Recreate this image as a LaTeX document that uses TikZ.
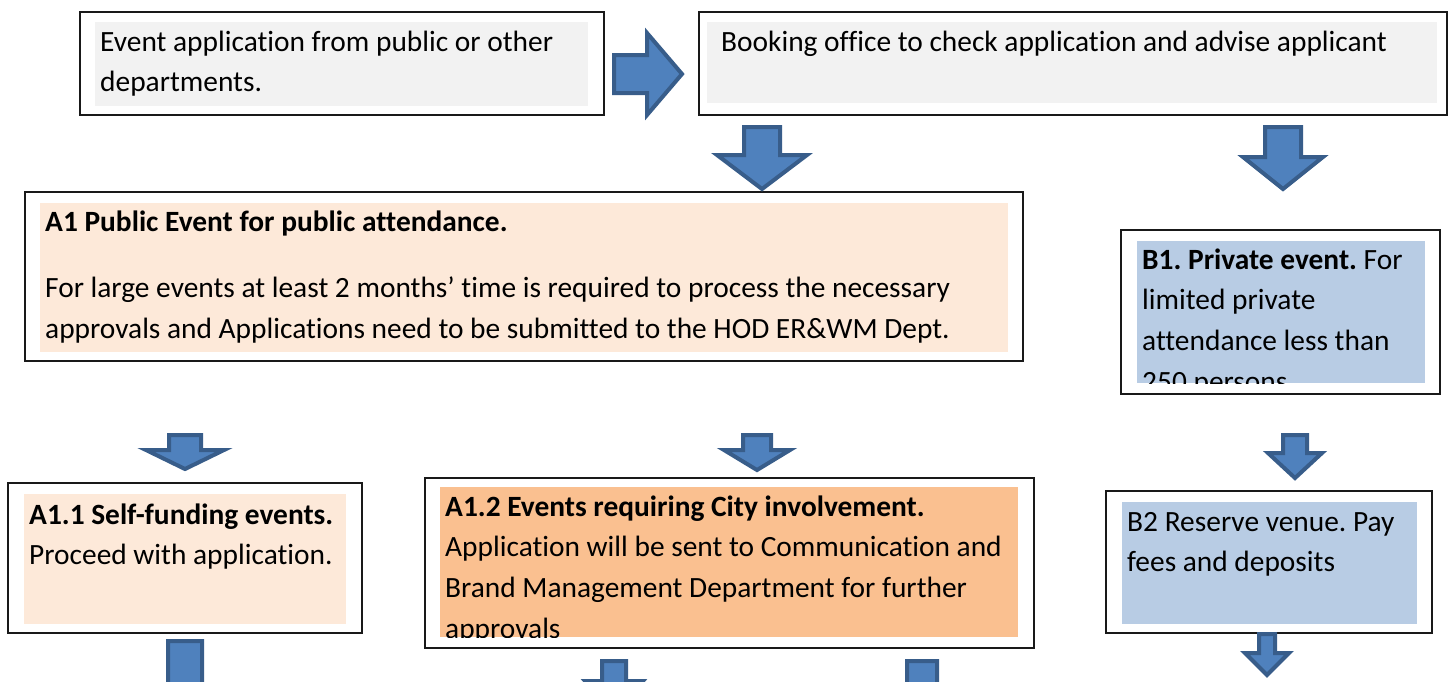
\documentclass[tikz,border=0pt]{standalone}
\usepackage{fontspec}
\setmainfont{Carlito}[RawFeature=-liga]
\frenchspacing
\usetikzlibrary{fit}
\definecolor{boxgray}{HTML}{F2F2F2}
\definecolor{peach}{HTML}{FDE9D9}
\definecolor{orangefill}{HTML}{FAC090}
\definecolor{bluefill}{HTML}{B8CCE4}
\definecolor{arrowfill}{HTML}{4F81BD}
\definecolor{arrowedge}{HTML}{385D8A}
% cx, top, shaft half width, head base y, head half width, apex y
\newcommand\blockdn[6]{%
  \draw[blockarrow] ({#1-#3},#2) -- ({#1+#3},#2) -- ({#1+#3},#4) -- ({#1+#5},#4)
    -- (#1,#6) -- ({#1-#5},#4) -- ({#1-#3},#4) -- cycle;}
\begin{document}
\begin{tikzpicture}[x=1pt,y=-1pt,
  outerbox/.style={draw=black!90, line width=1.3pt, inner sep=0pt},
  fillbox/.style={inner sep=0pt, draw=none},
  txt/.style={anchor=base west, inner sep=0pt, font=\fontsize{29.4}{40.7}\selectfont},
  blockarrow/.style={fill=arrowfill, draw=arrowedge, line width=4pt, line join=miter}]
\clip (0,0) rectangle (1455,681);
\fill[white] (0,0) rectangle (1455,681);

% ---- boxes ----
\node[outerbox, fit={(80,12)(604,115)}] (app) {};
\node[fillbox, fill=boxgray, fit={(95,22)(588,106)}] (appF) {};
\node[txt] (appT) at (100,51) {\parbox[t]{600pt}{\raggedright Event application from public or other\\departments.}};

\node[outerbox, fit={(699,12)(1447,115)}] (book) {};
\node[fillbox, fill=boxgray, fit={(707,22)(1437,103)}] (bookF) {};
\node[txt] (bookT) at (721,51) {Booking office to check application and advise applicant};

\node[outerbox, fit={(25,192)(1023,361)}] (a1) {};
\node[fillbox, fill=peach, fit={(40,203)(1008,352)}] (a1F) {};
\node[txt] (a1T) at (45,231) {\parbox[t]{1000pt}{\raggedright\textbf{A1 Public Event for public attendance.}\\[26pt]
For large events at least 2 months’ time is required to process the necessary\\
approvals and Applications need to be submitted to the HOD ER\&WM Dept.}};

\node[outerbox, fit={(1121,230)(1440,394)}] (b1) {};
\node[fillbox, fill=bluefill, fit={(1137,241)(1425,383)}] (b1F) {};
\begin{scope}
\clip (1137,241) rectangle (1425,383);
\node[txt] (b1T) at (1142,269) {\parbox[t]{400pt}{\raggedright\textbf{B1. Private event.} For\\limited private\\attendance less than\\250 persons}};
\end{scope}

\node[outerbox, fit={(8,483)(362,633)}] (a11) {};
\node[fillbox, fill=peach, fit={(24,494)(346,624)}] (a11F) {};
\node[txt] (a11T) at (29,524) {\parbox[t]{400pt}{\raggedright\textbf{A1.1 Self-funding events.}\\Proceed with application.}};

\node[outerbox, fit={(425,478)(1034,648)}] (a12) {};
\node[fillbox, fill=orangefill, fit={(440,487)(1018,637)}] (a12F) {};
\begin{scope}
\clip (440,487) rectangle (1018,637);
\node[txt] (a12T) at (445,516) {\parbox[t]{700pt}{\raggedright\textbf{A1.2 Events requiring City involvement.}\\Application will be sent to Communication and\\Brand Management Department for further\\approvals}};
\end{scope}

\node[outerbox, fit={(1106,491)(1432,633)}] (b2) {};
\node[fillbox, fill=bluefill, fit={(1122,502)(1417,624)}] (b2F) {};
\node[txt] (b2T) at (1127,531) {\parbox[t]{400pt}{\raggedright B2 Reserve venue. Pay\\fees and deposits}};

% ---- block arrows ----
\draw[blockarrow] (614,55) -- (647,55) -- (647,33) -- (682,74) -- (647,115) -- (647,93) -- (614,93) -- cycle;
\blockdn{762}{127}{18}{155}{45}{189}
\blockdn{1283}{127}{18}{157}{40}{189}
\blockdn{185}{435}{16}{450}{39}{469}
\blockdn{757}{435}{14}{450}{33}{470}
\blockdn{1295}{435}{12}{453}{27}{478}
\blockdn{185}{641}{17}{700}{40}{740}
\blockdn{614}{661}{12}{681}{29}{715}
\blockdn{922}{661}{15}{700}{35}{740}
\blockdn{1267}{634}{8}{653}{22}{675}
\end{tikzpicture}
\end{document}
